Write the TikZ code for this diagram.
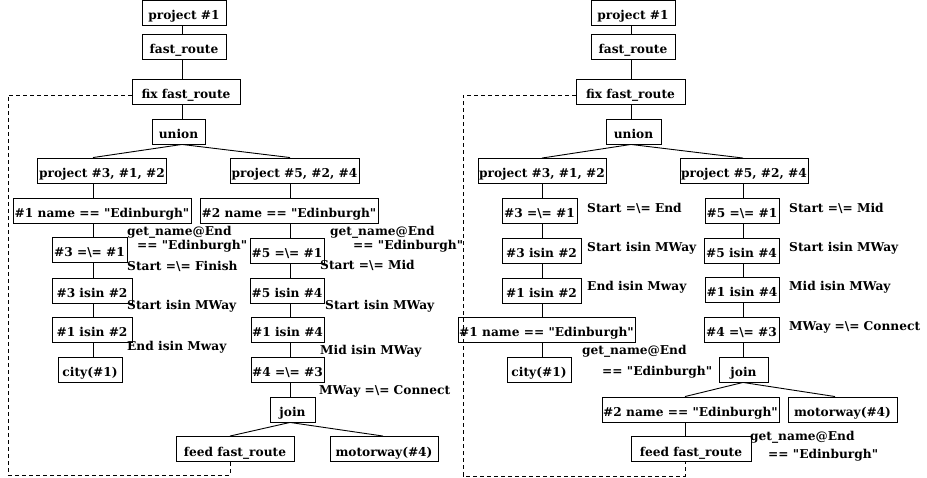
\documentclass[tikz,border=0pt]{standalone}
\usepackage{fontspec}
\newfontfamily\dvs{DejaVu Serif}
\begin{document}
\begin{tikzpicture}[x=1pt,y=-1pt,
  box/.style={draw, line width=0.9pt, fill=white, font=\dvs\fontsize{12.2}{14}\selectfont\bfseries, inner xsep=1pt, inner ysep=0pt, minimum height=25pt, text height=19.5pt, text depth=5.5pt},
  lab/.style={font=\dvs\fontsize{12.2}{14}\selectfont\bfseries, anchor=west, inner sep=0pt, text height=8.5pt, text depth=2.5pt},
  conn/.style={line width=0.9pt},
  loop/.style={line width=0.9pt, dash pattern=on 4pt off 3pt}]
\useasboundingbox (0,0) rectangle (927,478);
% ---------- left tree ----------
\node[box, minimum width=84pt] (pA) at (184,12.5) {project \#1};
\node[box, minimum width=84pt] (fA) at (184,46.5) {fast\_route};
\node[box, minimum width=108pt] (xA) at (186,92) {fix fast\_route};
\node[box, minimum width=53pt] (uA) at (178.5,131.5) {union};
\node[box, minimum width=129pt] (p3A) at (102,170.5) {project \#3, \#1, \#2};
\node[box, minimum width=129pt] (p5A) at (294.5,170.5) {project \#5, \#2, \#4};
\node[box, minimum width=178pt] (n1A) at (102,210.5) {\#1 name == "Edinburgh"};
\node[box, minimum width=178pt] (n2A) at (289,210.5) {\#2 name == "Edinburgh"};
\node[box, minimum width=75pt] (e31A) at (89.5,250) {\#3 =\textbackslash= \#1};
\node[box, minimum width=80pt] (i32A) at (92,290.5) {\#3 isin \#2};
\node[box, minimum width=80pt] (i12A) at (92,329.5) {\#1 isin \#2};
\node[box, minimum width=64pt] (cA) at (90,369.5) {city(\#1)};
\node[box, minimum width=74pt] (e51A) at (287,250.5) {\#5 =\textbackslash= \#1};
\node[box, minimum width=74pt] (i54A) at (287,290.5) {\#5 isin \#4};
\node[box, minimum width=73pt] (i14A) at (287.5,329.5) {\#1 isin \#4};
\node[box, minimum width=73pt] (e43A) at (287.5,369.5) {\#4 =\textbackslash= \#3};
\node[box, minimum width=45pt] (jA) at (292.5,409.5) {join};
\node[box, minimum width=118pt] (feA) at (235,449) {feed fast\_route};
\node[box, minimum width=108pt] (mA) at (384,449) {motorway(\#4)};
\node[lab] (l1) at (127,233) {get\_name@End};
\node[lab] (l2) at (137,247) {== "Edinburgh"};
\node[lab] (l3) at (127,268) {Start =\textbackslash= Finish};
\node[lab] (l4) at (127,307) {Start isin MWay};
\node[lab] (l5) at (127,348) {End isin Mway};
\node[lab] (l6) at (330,233) {get\_name@End};
\node[lab] (l7) at (353,247) {== "Edinburgh"};
\node[lab] (l8) at (320,267) {Start =\textbackslash= Mid};
\node[lab] (l9) at (325,307) {Start isin MWay};
\node[lab] (l10) at (320,352) {Mid isin MWay};
\node[lab] (l11) at (319,392) {MWay =\textbackslash= Connect};
\coordinate (sA) at (182,0);
\coordinate (sA1) at (93,0);
\coordinate (sA2) at (290,0);
\draw[conn] (pA.south -| sA) -- (fA.north -| sA);
\draw[conn] (fA.south -| sA) -- (xA.north -| sA);
\draw[conn] (xA.south -| sA) -- (uA.north -| sA);
\draw[conn] (uA.south -| sA) -- (p3A.north -| sA1);
\draw[conn] (uA.south -| sA) -- (p5A.north -| sA2);
\draw[conn] (p3A.south -| sA1) -- (n1A.north -| sA1);
\draw[conn] (n1A.south -| sA1) -- (e31A.north -| sA1);
\draw[conn] (e31A.south -| sA1) -- (i32A.north -| sA1);
\draw[conn] (i32A.south -| sA1) -- (i12A.north -| sA1);
\draw[conn] (i12A.south -| sA1) -- (cA.north -| sA1);
\draw[conn] (p5A.south -| sA2) -- (n2A.north -| sA2);
\draw[conn] (n2A.south -| sA2) -- (e51A.north -| sA2);
\draw[conn] (e51A.south -| sA2) -- (i54A.north -| sA2);
\draw[conn] (i54A.south -| sA2) -- (i14A.north -| sA2);
\draw[conn] (i14A.south -| sA2) -- (e43A.north -| sA2);
\draw[conn] (e43A.south -| sA2) -- (jA.north -| sA2);
\coordinate (tA1) at (230,0);
\coordinate (tA2) at (383,0);
\draw[conn] (jA.south -| sA2) -- (feA.north -| tA1);
\draw[conn] (jA.south -| sA2) -- (mA.north -| tA2);
\coordinate (dA1) at (8,475);
\coordinate (dA2) at (230,475);
\draw[loop] ([yshift=-3pt]xA.west) -| (dA1) -- (dA2) -- (feA.south -| dA2);
% ---------- right tree ----------
\node[box, minimum width=84pt] (pB) at (633,12.5) {project \#1};
\node[box, minimum width=84pt] (fB) at (633,46.5) {fast\_route};
\node[box, minimum width=109pt] (xB) at (630.5,92) {fix fast\_route};
\node[box, minimum width=55pt] (uB) at (633.5,131.5) {union};
\node[box, minimum width=128pt] (p3B) at (542,171) {project \#3, \#1, \#2};
\node[box, minimum width=128pt] (p5B) at (744,171) {project \#5, \#2, \#4};
\node[box, minimum width=75pt] (e31B) at (539.5,210.5) {\#3 =\textbackslash= \#1};
\node[box, minimum width=79pt] (i32B) at (541.5,250.5) {\#3 isin \#2};
\node[box, minimum width=79pt] (i12B) at (541.5,290.5) {\#1 isin \#2};
\node[box, minimum width=177pt] (n1B) at (546.5,329.5) {\#1 name == "Edinburgh"};
\node[box, minimum width=64pt] (cB) at (539,369.5) {city(\#1)};
\node[box, minimum width=74pt] (e51B) at (742,210.5) {\#5 =\textbackslash= \#1};
\node[box, minimum width=75pt] (i54B) at (741.5,250.5) {\#5 isin \#4};
\node[box, minimum width=74pt] (i14B) at (742,290) {\#1 isin \#4};
\node[box, minimum width=75pt] (e43B) at (741.5,329.5) {\#4 =\textbackslash= \#3};
\node[box, minimum width=49pt] (jB) at (743.5,369.5) {join};
\node[box, minimum width=177pt] (n2B) at (690.5,409.5) {\#2 name == "Edinburgh"};
\node[box, minimum width=109pt] (mB) at (842.5,409.5) {motorway(\#4)};
\node[box, minimum width=120pt] (feB) at (691,449) {feed fast\_route};
\node[lab] (r1) at (587,210) {Start =\textbackslash= End};
\node[lab] (r2) at (587,249) {Start isin MWay};
\node[lab] (r3) at (587,288) {End isin Mway};
\node[lab] (r4) at (582,352) {get\_name@End};
\node[lab] (r5) at (602,373) {== "Edinburgh"};
\node[lab] (r6) at (789,210) {Start =\textbackslash= Mid};
\node[lab] (r7) at (789,249) {Start isin MWay};
\node[lab] (r8) at (789,288) {Mid isin MWay};
\node[lab] (r9) at (789,328) {MWay =\textbackslash= Connect};
\node[lab] (r10) at (750,437) {get\_name@End};
\node[lab] (r11) at (768,455) {== "Edinburgh"};
\coordinate (sB) at (631,0);
\coordinate (sB1) at (542,0);
\coordinate (sB2) at (743,0);
\draw[conn] (pB.south -| sB) -- (fB.north -| sB);
\draw[conn] (fB.south -| sB) -- (xB.north -| sB);
\draw[conn] (xB.south -| sB) -- (uB.north -| sB);
\draw[conn] (uB.south -| sB) -- (p3B.north -| sB1);
\draw[conn] (uB.south -| sB) -- (p5B.north -| sB2);
\draw[conn] (p3B.south -| sB1) -- (e31B.north -| sB1);
\draw[conn] (e31B.south -| sB1) -- (i32B.north -| sB1);
\draw[conn] (i32B.south -| sB1) -- (i12B.north -| sB1);
\draw[conn] (i12B.south -| sB1) -- (n1B.north -| sB1);
\draw[conn] (n1B.south -| sB1) -- (cB.north -| sB1);
\draw[conn] (p5B.south -| sB2) -- (e51B.north -| sB2);
\draw[conn] (e51B.south -| sB2) -- (i54B.north -| sB2);
\draw[conn] (i54B.south -| sB2) -- (i14B.north -| sB2);
\draw[conn] (i14B.south -| sB2) -- (e43B.north -| sB2);
\draw[conn] (e43B.south -| sB2) -- (jB.north -| sB2);
\coordinate (tB1) at (685,0);
\coordinate (tB2) at (835,0);
\draw[conn] (jB.south -| sB2) -- (n2B.north -| tB1);
\draw[conn] (jB.south -| sB2) -- (mB.north -| tB2);
\draw[conn] (n2B.south -| tB1) -- (feB.north -| tB1);
\coordinate (dB1) at (463,476);
\coordinate (dB2) at (685,476);
\draw[loop] ([yshift=-3pt]xB.west) -| (dB1) -- (dB2) -- (feB.south -| dB2);
\end{tikzpicture}
\end{document}
